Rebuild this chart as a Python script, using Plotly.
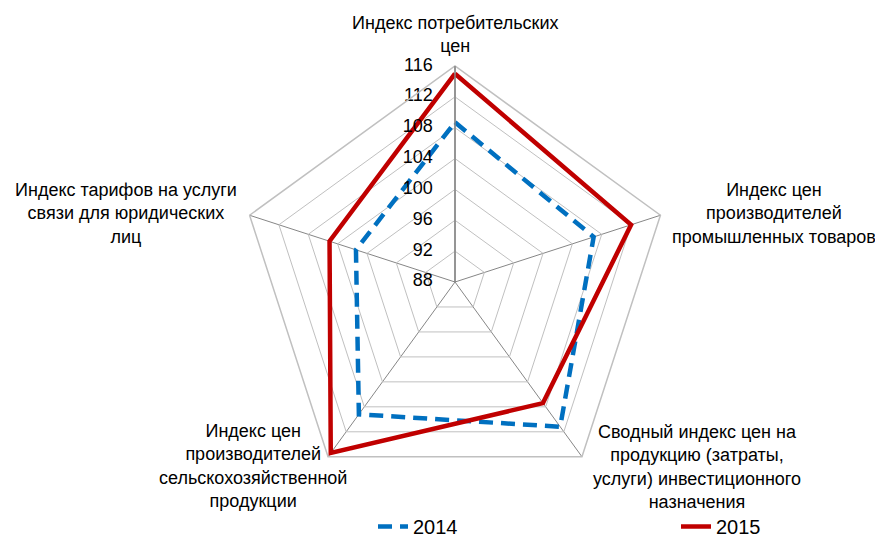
import plotly.graph_objects as go

# axis categories, clockwise from the top
categories = [
    "Индекс потребительских цен",
    "Индекс цен производителей промышленных товаров",
    "Сводный индекс цен на продукцию (затраты, услуги) инвестиционного назначения",
    "Индекс цен производителей сельскохозяйственной продукции",
    "Индекс тарифов на услуги связи для юридических лиц",
]
values_2014 = [108.7, 106.9, 111.2, 109.2, 101.5]
values_2015 = [115.0, 112.0, 107.4, 115.4, 105.1]
radial_ticks = [88, 92, 96, 100, 104, 108, 112, 116]

# label text and where it sits (page px from top-left)
label_text = [
    "Индекс потребительских<br>цен",
    "Индекс цен<br>производителей<br>промышленных товаров",
    "Сводный индекс цен на<br>продукцию (затраты,<br>услуги) инвестиционного<br>назначения",
    "Индекс цен<br>производителей<br>сельскохозяйственной<br>продукции",
    "Индекс тарифов на услуги<br>связи для юридических<br>лиц",
]
label_pos = [(455, 35), (774, 213), (697, 467), (253, 466), (126, 213)]

# page has an 8px body margin, so the figure is shifted by that much
OFF = 8
W, H = 883 - OFF, 546 - OFF
cx, cy, R = 455 - OFF, 282 - OFF, 216

def closed(v):
    return v + v[:1]

fig = go.Figure()
fig.add_trace(go.Scatterpolar(
    r=closed(values_2014), theta=closed(categories), name="2014",
    mode="lines", line=dict(color="#0070C0", width=4.5, dash="14px,8px"),
    legend="legend", showlegend=True,
))
fig.add_trace(go.Scatterpolar(
    r=closed(values_2015), theta=closed(categories), name="2015",
    mode="lines", line=dict(color="#C00000", width=4.5),
    legend="legend2", showlegend=True,
))
# radial tick labels, set off to the left of the vertical axis
# (the centre one nudged a hair off the range minimum so it is drawn)
fig.add_trace(go.Scatterpolar(
    r=[max(t, radial_ticks[0] + 0.05) for t in radial_ticks],
    theta=[categories[0]] * len(radial_ticks),
    text=[str(t) for t in radial_ticks], mode="markers+text",
    marker=dict(size=34, color="rgba(0,0,0,0)"),
    textposition="middle left", textfont=dict(size=18, color="#000"),
    showlegend=False, hoverinfo="skip", cliponaxis=False,
))

for txt, (x, y) in zip(label_text, label_pos):
    fig.add_annotation(
        text=txt, x=(x - OFF) / W, y=1 - (y - OFF) / H, xref="paper", yref="paper",
        showarrow=False, xanchor="center", yanchor="middle", align="center",
        font=dict(size=18, color="#000"),
    )

leg = dict(xanchor="left", yanchor="bottom", y=0,
           font=dict(size=20), bgcolor="rgba(0,0,0,0)", visible=True)

fig.update_layout(
    width=W, height=H,
    margin=dict(l=0, r=0, t=0, b=0),
    paper_bgcolor="white",
    showlegend=True,
    font=dict(family="Arial, Liberation Sans, sans-serif", color="#000"),
    polar=dict(
        domain=dict(x=[(cx - R) / W, (cx + R) / W], y=[1 - (cy + R) / H, 1 - (cy - R) / H]),
        bgcolor="white",
        gridshape="linear",
        radialaxis=dict(
            range=[88, 116], tickvals=radial_ticks, angle=90,
            showticklabels=False, showline=True, linecolor="#868686", linewidth=1.5,
            gridcolor="#C0C0C0", gridwidth=1.2, ticks="",
        ),
        angularaxis=dict(
            rotation=90, direction="clockwise", showticklabels=False, ticks="",
            showline=True, linecolor="#C0C0C0", linewidth=1.5,
            gridcolor="#868686", gridwidth=1.2,
        ),
    ),
    legend=dict(x=(373 - OFF) / W, **leg),
    legend2=dict(x=(676 - OFF) / W, **leg),
)

fig.write_html("out.html")
